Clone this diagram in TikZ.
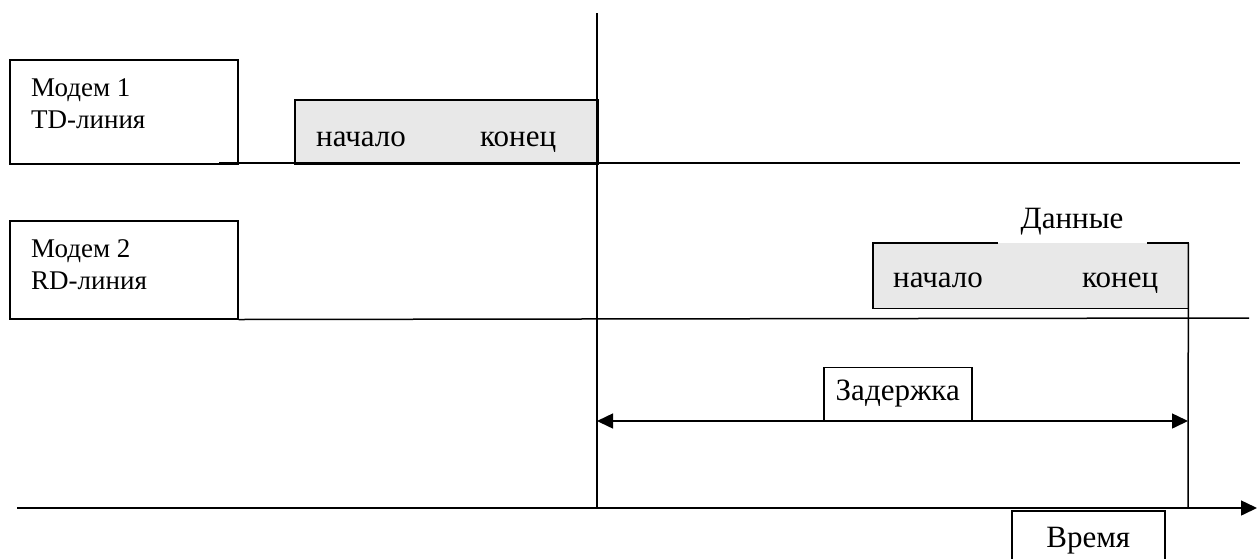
\documentclass[tikz,border=0pt]{standalone}
\usepackage{fontspec}
\setmainfont{Liberation Serif}
\usetikzlibrary{arrows.meta}
\newcommand\modemfont{\fontsize{27}{32}\selectfont}
\newcommand\labelfont{\fontsize{31}{37}\selectfont}

\begin{document}
\begin{tikzpicture}[x=1pt,y=-1pt,
	every node/.style={inner sep=0pt},
	line/.style={line width=1.5pt},
	frame/.style={draw,line width=1.5pt},
	packet/.style={fill=gray!18},
	>={Triangle[length=16pt,width=15pt]}]
	\useasboundingbox (0,0) rectangle (1258,558);

%modem 1, TD line
	\node[frame,minimum width=228pt,minimum height=104pt,anchor=north west] (m1) at (9,59) {};
	\node[anchor=north west,align=left,font=\modemfont] (m1txt) at (31,78) {Модем 1\\TD-линия};
	\node[packet,frame,minimum width=303pt,minimum height=64pt,anchor=north west] (td) at (294,99) {};
	\node[anchor=base west,font=\labelfont] (tdbeg) at (316,146) {начало};
	\node[anchor=base west,font=\labelfont] (tdend) at (480,146) {конец};
	\coordinate (tdL) at (219,163);
	\coordinate (tdR) at (1240,163);
	\draw[line] (tdL) -- (tdR);

%modem 2, RD line
	\node[frame,minimum width=228pt,minimum height=98pt,anchor=north west] (m2) at (9,220) {};
	\node[anchor=north west,align=left,font=\modemfont] (m2txt) at (31,239) {Модем 2\\RD-линия};
	\node[packet,minimum width=315pt,minimum height=65pt,anchor=north west] (rd) at (873,243) {};
	\node[anchor=base,font=\labelfont] (data) at (1072,228) {Данные};
	\coordinate (gapL) at (998,243);
	\coordinate (gapR) at (1147,243);
	\draw[line] (gapL) -- (rd.north west) -- (rd.south west) -- (rd.south east) -- (rd.north east) -- (gapR);
	\node[anchor=base west,font=\labelfont] (rdbeg) at (893,287) {начало};
	\node[anchor=base west,font=\labelfont] (rdend) at (1082,287) {конец};
	\coordinate (rdR) at (1249,318);
	\draw[line] (m2.south east) -- (rdR);

%time axis
	\coordinate (t0) at (17,508);
	\coordinate (t1) at (1257,508);
	\draw[line,->] (t0) -- (t1);
	\coordinate (sendtop) at (597,13);
	\coordinate (send) at (597,508);
	\coordinate (recv) at (1188,508);
	\draw[line] (sendtop) -- (send);
	\draw[line] (rd.north east) -- (recv);

%delay
	\coordinate (dL) at (597,421);
	\coordinate (dR) at (1188,421);
	\draw[line,<->] (dL) -- (dR);
	\node[frame,fill=white,minimum width=148pt,minimum height=53pt,anchor=south west,font=\labelfont] (delay) at (823,421) {Задержка};
	\node[frame,minimum width=153pt,minimum height=60pt,anchor=north west,font=\labelfont] (time) at (1011,510) {Время};
\end{tikzpicture}
\end{document}
